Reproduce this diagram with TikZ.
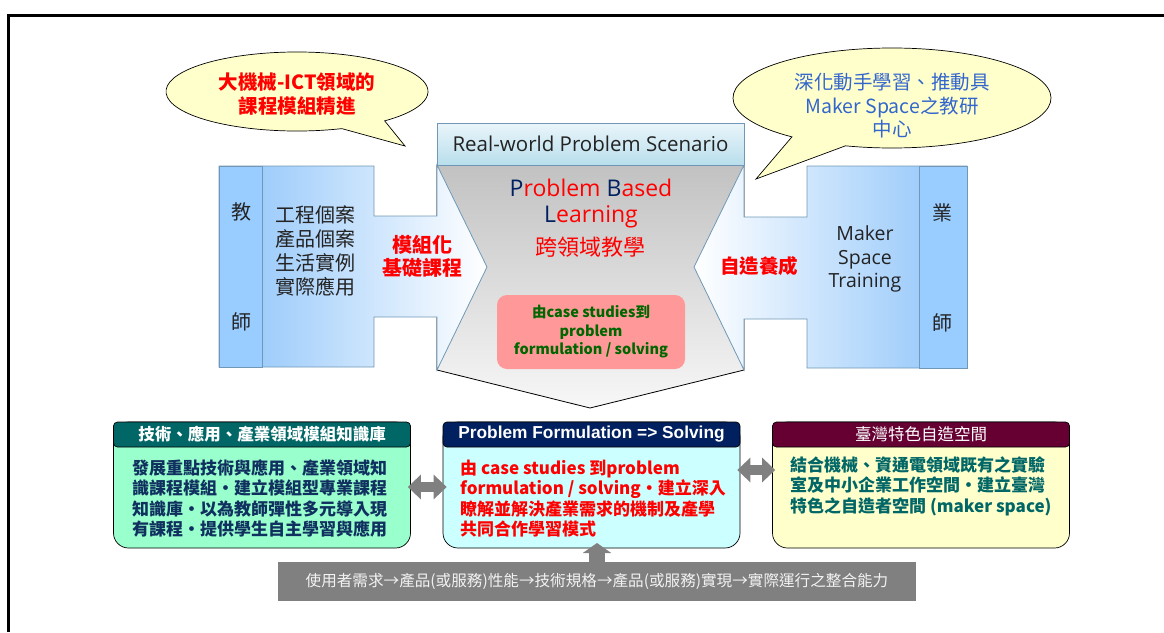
\documentclass[tikz,border=0pt]{standalone}
\usepackage{fontspec}
\setmainfont{Noto Sans CJK TC}
\newfontfamily\segoefont{Open Sans}
\newfontfamily\arialfont{Liberation Sans}
\usetikzlibrary{arrows.meta}
\definecolor{BubbleYellow}{RGB}{255,255,204}
\definecolor{BubbleBlue}{RGB}{51,102,204}
\definecolor{PblRed}{RGB}{255,0,0}
\definecolor{PblNavy}{RGB}{0,32,96}
\definecolor{EdgeBlue}{RGB}{112,152,182}
\definecolor{ColBlue}{RGB}{153,204,255}
\definecolor{WingBlue}{RGB}{140,195,250}
\definecolor{WingMid}{RGB}{205,228,252}
\definecolor{SkyTop}{RGB}{234,245,250}
\definecolor{SkyBot}{RGB}{184,222,236}
\definecolor{PinkBox}{RGB}{255,153,153}
\definecolor{LeafGreen}{RGB}{0,102,0}
\definecolor{TealHead}{RGB}{0,102,102}
\definecolor{NavyHead}{RGB}{0,32,96}
\definecolor{WineHead}{RGB}{102,0,51}
\definecolor{Mint}{RGB}{153,255,204}
\definecolor{IceCyan}{RGB}{204,255,255}
\definecolor{Cream}{RGB}{255,255,204}
\definecolor{InkBlue}{RGB}{16,48,96}
\definecolor{InkGray}{RGB}{35,35,35}
\definecolor{BarGray}{RGB}{128,128,128}
\tikzset{
  bubble/.style={draw=black,line width=0.7pt,fill=BubbleYellow},
  wing/.style={draw=EdgeBlue,line width=0.8pt},
  col/.style={draw=EdgeBlue,line width=0.8pt,fill=ColBlue},
  lbl/.style={inner sep=0pt,align=center},
  body/.style={draw=black,line width=0.7pt,rounded corners=15pt,
    minimum width=297pt,minimum height=126pt,inner sep=0pt},
  hdr/.style={draw=black,line width=0.7pt,rounded corners=4pt,
    minimum width=297pt,minimum height=25pt,inner sep=0pt,text=white},
  txt/.style={inner sep=0pt,align=left,anchor=west,
    font=\fontsize{17}{20.5}\selectfont\bfseries},
  fat/.style={draw=BarGray,line width=10pt,
    {Triangle[width=24pt,length=13pt]}-{Triangle[width=24pt,length=13pt]}},
  upfat/.style={draw=BarGray,line width=16pt,-{Triangle[width=28pt,length=10pt]}},
}

\begin{document}
\begin{tikzpicture}[x=1pt,y=-1pt]
\useasboundingbox (0,0) rectangle (1164,632);
% frame
\draw[line width=3pt] (8,632) -- (8,15) -- (1164,15);

% hourglass between the two wings
\draw[draw=black,line width=0.8pt,top color=black!24,bottom color=black!3]
  (437,165) -- (744,165) -- (744,370) -- (590,408) -- (437,370) -- cycle;

% left wing
\draw[wing,left color=WingBlue,middle color=WingMid,right color=white]
  (219,166) -- (374,166) -- (374,216) -- (437,216) -- (437,165) -- (487,267)
  -- (437,370) -- (437,317) -- (374,317) -- (374,367) -- (219,367) -- cycle;
\draw[col] (219,166) rectangle (262,367);
% right wing
\draw[wing,left color=white,middle color=WingMid,right color=WingBlue]
  (967,166) -- (807,166) -- (807,217) -- (744,217) -- (744,165) -- (694,267)
  -- (744,370) -- (744,319) -- (807,319) -- (807,368) -- (967,368) -- cycle;
\draw[col] (919,166) rectangle (967,368);

\node[draw=EdgeBlue,line width=0.8pt,top color=SkyTop,bottom color=SkyBot,
  minimum width=307pt,minimum height=42pt,inner sep=0pt,
  font=\segoefont\fontsize{20.5}{22}\selectfont,text=InkGray] (scene) at (590.5,144)
  {Real-world Problem Scenario};

\node[lbl,text=PblRed,font=\segoefont\fontsize{23}{26}\selectfont] (pbl) at (591,204)
  {{\color{PblNavy}P}roblem {\color{PblNavy}B}ased\\{\color{PblNavy}L}earning};
\node[lbl,text=PblRed,font=\fontsize{22}{24}\selectfont] (cross) at (590,247) {跨領域教學};

\node[fill=PinkBox,rounded corners=10pt,minimum width=188pt,minimum height=74pt,
  inner sep=0pt,align=center,text=LeafGreen,
  font=\fontsize{14.5}{18.5}\selectfont\bfseries] (cases) at (591,332)
  {由case studies到\\problem\\formulation / solving};

% teacher side
\node[lbl,text=InkGray,font=\fontsize{20}{24}\selectfont] (jiao) at (241,212) {教};
\node[lbl,text=InkGray,font=\fontsize{20}{24}\selectfont] (shi1) at (241,322) {師};
\node[lbl,text=InkGray,font=\fontsize{20}{24}\selectfont] (cases4) at (315,251)
  {工程個案\\產品個案\\生活實例\\實際應用};
\node[lbl,text=PblRed,font=\fontsize{20}{23}\selectfont\bfseries] (modular) at (422,256)
  {模組化\\基礎課程};
% industry side
\node[lbl,text=InkGray,font=\fontsize{20}{24}\selectfont] (ye) at (942,213) {業};
\node[lbl,text=InkGray,font=\fontsize{20}{24}\selectfont] (shi2) at (942,323) {師};
\node[lbl,text=InkGray,font=\segoefont\fontsize{19.5}{23.5}\selectfont] (maker) at (865,259)
  {Maker\\Space\\Training};
\node[lbl,text=PblRed,font=\fontsize{19.5}{23}\selectfont\bfseries] (selfmade) at (759,266)
  {自造養成};

% speech bubbles
\coordinate (ltip) at (405,146);
\draw[bubble] (297,91.5) ++(70:131 and 39.5)
  arc[start angle=70,end angle=408,x radius=131,y radius=39.5] -- (ltip) -- cycle;
\node[lbl,text=PblRed,font=\fontsize{19.5}{24}\selectfont\bfseries] (lbub) at (297,94)
  {大機械-ICT領域的\\課程模組精進};
\coordinate (rtip) at (756,179);
\draw[bubble] (892,98) ++(129:159 and 50)
  arc[start angle=129,end angle=467,x radius=159,y radius=50] -- (rtip) -- cycle;
\node[lbl,text=BubbleBlue,font=\fontsize{19.5}{23.5}\selectfont] (rbub) at (892,106)
  {深化動手學習、推動具\\Maker Space之教研\\中心};

% bottom boxes
\node[body,fill=Mint] (kbody) at (262,485) {};
\node[hdr,fill=TealHead,font=\fontsize{16.5}{20}\selectfont\bfseries] (khead) at (262,434.5)
  {技術、應用、產業領域模組知識庫};
\node[txt,text=InkBlue] (ktext) at (132,498.5)
  {發展重點技術與應用、產業領域知\\識課程模組‧建立模組型專業課程\\知識庫‧以為教師彈性多元導入現\\有課程‧提供學生自主學習與應用};

\node[body,fill=IceCyan] (pbody) at (591.5,485) {};
\node[hdr,fill=NavyHead,font=\arialfont\fontsize{17.3}{20}\selectfont\bfseries] (phead) at (591.5,434.5)
  {Problem Formulation => Solving};
\node[txt,text=PblRed] (ptext) at (460,498.5)
  {由 case studies 到problem\\formulation / solving‧建立深入\\瞭解並解決產業需求的機制及產學\\共同合作學習模式};

\node[body,fill=Cream] (tbody) at (921,485) {};
\node[hdr,fill=WineHead,font=\fontsize{16.5}{20}\selectfont] (thead) at (921,434.5)
  {臺灣特色自造空間};
\node[txt,text=TealHead] (ttext) at (790,486)
  {結合機械、資通電領域既有之實驗\\室及中小企業工作空間‧建立臺灣\\特色之自造者空間 (maker space)};

\node[fill=BarGray,minimum width=638pt,minimum height=39pt,inner sep=0pt,
  text=black!5,font=\fontsize{15.6}{18}\selectfont] (bar) at (597,581.5)
  {使用者需求→產品(或服務)性能→技術規格→產品(或服務)實現→實際運行之整合能力};

% connectors
\draw[fat] ([xshift=-3pt,yshift=-2pt]kbody.east) -- ([xshift=4pt,yshift=-2pt]pbody.west);
\draw[fat] ([xshift=-3pt,yshift=15pt]pbody.east) -- ([xshift=3pt,yshift=15pt]tbody.west);
\coordinate (uptip) at (597,543);
\draw[upfat] (bar.north) -- (uptip);
\end{tikzpicture}
\end{document}
